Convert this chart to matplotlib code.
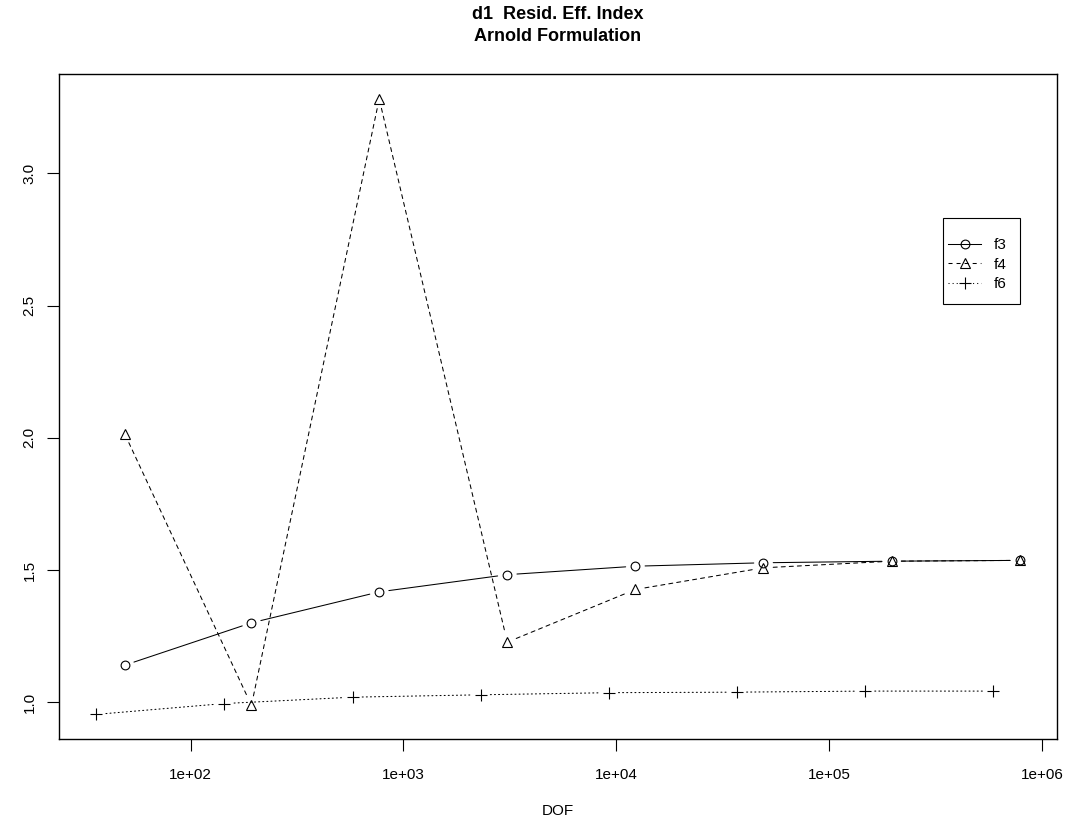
import matplotlib
matplotlib.use("Agg")
import matplotlib.pyplot as plt
from matplotlib.patches import FancyArrowPatch, Rectangle
from matplotlib.lines import Line2D

plt.rcParams["font.family"] = ["Liberation Sans", "DejaVu Sans"]
plt.rcParams["lines.scale_dashes"] = False

# data
dof_f3f4 = [49, 193, 769, 3073, 12289, 49153, 196609, 786433]
dof_f6 = [36, 144, 576, 2304, 9216, 36864, 147456, 589824]
f3 = [1.141, 1.301, 1.418, 1.483, 1.515, 1.528, 1.534, 1.537]
f4 = [2.015, 0.989, 3.281, 1.228, 1.427, 1.509, 1.534, 1.537]
f6 = [0.955, 0.996, 1.020, 1.029, 1.037, 1.039, 1.043, 1.043]

x_ticks = [1e2, 1e3, 1e4, 1e5, 1e6]
x_tick_labels = ["1e+02", "1e+03", "1e+04", "1e+05", "1e+06"]
y_ticks = [1.0, 1.5, 2.0, 2.5, 3.0]
y_tick_labels = ["1.0", "1.5", "2.0", "2.5", "3.0"]

W, H = 1070, 825
fig = plt.figure(figsize=(W / 100, H / 100), dpi=100)
ax = fig.add_axes([59.3 / W, 1 - 739 / H, (1056.7 - 59.3) / W, (739 - 74.3) / H])

dashed = (0, (2.9, 2.9))
dotted = (0, (0.75, 2.2))
series = [
    ("f3", dof_f3f4, f3, "-", "o", 6.3),
    ("f4", dof_f3f4, f4, dashed, "^", 7.2),
    ("f6", dof_f6, f6, dotted, "+", 8.0),
]

handles = []
for name, xs, ys, ls, mk, ms in series:
    ax.plot(xs, ys, linestyle="none", marker=mk, ms=ms, mfc="none",
            mec="black", mew=0.8)
    # R type="b": segments stop short of the points
    for i in range(len(xs) - 1):
        seg = FancyArrowPatch((xs[i], ys[i]), (xs[i + 1], ys[i + 1]),
                              arrowstyle="-", shrinkA=7, shrinkB=7,
                              transform=ax.transData, color="black",
                              linewidth=0.75, linestyle=ls)
        ax.add_patch(seg)
    handles.append(Line2D([], [], color="black", linewidth=0.75, linestyle=ls,
                          marker=mk, ms=ms, mfc="none", mec="black", mew=0.8))

ax.set_xscale("log")
ax.margins(0.04)
ax.minorticks_off()
ax.set_xticks(x_ticks)
ax.set_xticklabels(x_tick_labels)
ax.set_yticks(y_ticks)
ax.set_yticklabels(y_tick_labels, rotation=90, va="center")

for sp in ax.spines.values():
    sp.set_linewidth(1.0)
ax.tick_params(axis="both", direction="out", length=8.3, width=0.8,
               labelsize=11)
ax.tick_params(axis="x", pad=12.5)
ax.tick_params(axis="y", pad=8)

ax.set_xlabel("DOF", fontsize=11, labelpad=16)
ax.set_title("d1  Resid. Eff. Index\nArnold Formulation", fontsize=13,
             fontweight="bold", pad=24, linespacing=1.35)

# legend box drawn like R's: wide vertical inset, narrow left inset
box = Rectangle((0.8863, 0.654), 0.0769, 0.1293, transform=ax.transAxes,
                facecolor="white", edgecolor="black", linewidth=0.8,
                zorder=4.5)
ax.add_patch(box)
leg = ax.legend(handles, ["f3", "f4", "f6"], loc="upper left",
                bbox_to_anchor=(0.8913, 0.7535), borderaxespad=0,
                frameon=False, fontsize=11, handlelength=2.16,
                handletextpad=0.8, borderpad=0, labelspacing=0.36,
                numpoints=1)
leg.set_zorder(5)

fig.savefig("out.png", dpi=100)
